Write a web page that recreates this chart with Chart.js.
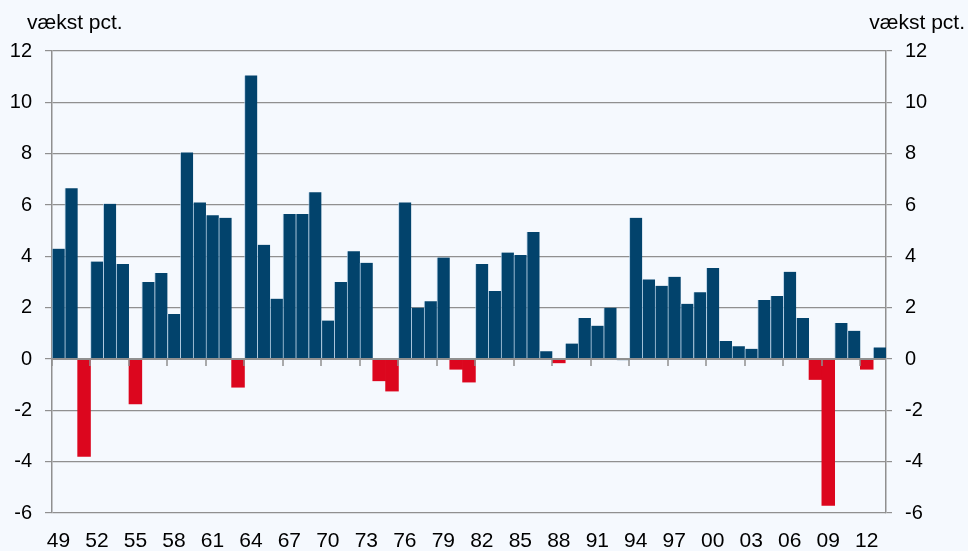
<!DOCTYPE html>
<html>
<head>
<meta charset="utf-8">
<script src="https://cdn.jsdelivr.net/npm/chart.js@4/dist/chart.umd.min.js"></script>
<style>
  html, body { margin: 0; padding: 0; background: #f5f9fe; }
  canvas { display: block; }
</style>
</head>
<body>
<canvas id="chart" width="968" height="551"></canvas>
<script>
// Years 1949-2013 (two-digit labels)
const years = [
    '49','50','51','52','53','54','55','56','57','58','59',
    '60','61','62','63','64','65','66','67','68','69',
    '70','71','72','73','74','75','76','77','78','79',
    '80','81','82','83','84','85','86','87','88','89',
    '90','91','92','93','94','95','96','97','98','99',
    '00','01','02','03','04','05','06','07','08','09',
    '10','11','12','13'
];

// Real growth, pct.
const growth = [
    4.3, 6.65, -3.8, 3.8, 6.05, 3.7, -1.75, 3.0, 3.35, 1.75, 8.05,
    6.1, 5.6, 5.5, -1.1, 11.05, 4.45, 2.35, 5.65, 5.65, 6.5,
    1.5, 3.0, 4.2, 3.75, -0.85, -1.25, 6.1, 2.0, 2.25, 3.95,
    -0.4, -0.9, 3.7, 2.65, 4.15, 4.05, 4.95, 0.3, -0.15, 0.6,
    1.6, 1.3, 2.0, -0.05, 5.5, 3.1, 2.85, 3.2, 2.15, 2.6,
    3.55, 0.7, 0.5, 0.4, 2.3, 2.45, 3.4, 1.6, -0.8, -5.7,
    1.4, 1.1, -0.4, 0.45
];

const yMin = -6;
const yMax = 12;
const yStep = 2;
const axisTitle = 'vækst pct.';

const blue = '#02436c';
const red = '#dc061e';
const gridGray = '#909090';

const isNeg = v => v <= -0.1;

// Zero line + small ticks every third year, plus the unit labels
const extras = {
    id: 'extras',
    afterDatasetsDraw(chart) {
        const { ctx, chartArea, scales } = chart;
        const x = scales.x;
        const y0 = scales.y.getPixelForValue(0);
        const half = (x.getPixelForValue(1) - x.getPixelForValue(0)) / 2;
        ctx.save();
        ctx.strokeStyle = gridGray;
        ctx.lineWidth = 2;
        ctx.beginPath();
        ctx.moveTo(chartArea.left, y0);
        ctx.lineTo(chartArea.right, y0);
        ctx.stroke();
        ctx.lineWidth = 1.5;
        ctx.beginPath();
        for (let i = 0; i < years.length; i += 3) {
            const px = Math.round(x.getPixelForValue(i) - half);
            ctx.moveTo(px, y0);
            ctx.lineTo(px, y0 + 7);
        }
        ctx.stroke();
        ctx.restore();
    },
    afterDraw(chart) {
        const { ctx } = chart;
        ctx.save();
        ctx.fillStyle = '#000';
        ctx.font = '21px "Liberation Sans", Arial, sans-serif';
        ctx.textBaseline = 'middle';
        ctx.textAlign = 'left';
        ctx.fillText(axisTitle, 27, 23);
        ctx.textAlign = 'right';
        ctx.fillText(axisTitle, 965, 23);
        ctx.restore();
    }
};

Chart.defaults.font.family = '"Liberation Sans", Arial, sans-serif';
Chart.defaults.font.size = 20;
Chart.defaults.color = '#000';

new Chart(document.getElementById('chart'), {
    type: 'bar',
    data: {
        labels: years,
        datasets: [{
            data: growth,
            backgroundColor: growth.map(v => isNeg(v) ? red : blue),
            borderColor: 'rgba(170,200,225,0.75)',
            borderWidth: growth.map(v => isNeg(v) ? 0 : { left: 1, right: 0, top: 0, bottom: 0 }),
            borderSkipped: false,
            barPercentage: 1,
            categoryPercentage: 1,
            yAxisID: 'y'
        }]
    },
    options: {
        responsive: false,
        animation: false,
        layout: { padding: { top: 51, left: 0, right: 0, bottom: 0 } },
        plugins: {
            legend: { display: false },
            tooltip: { enabled: false }
        },
        scales: {
            x: {
                grid: { display: false, drawTicks: false },
                border: { display: false },
                ticks: {
                    autoSkip: false,
                    maxRotation: 0,
                    padding: 16,
                    font: { size: 21 },
                    callback: function (val, idx) {
                        return idx % 3 === 0 ? years[idx] : '';
                    }
                },
                afterFit: s => { s.height = 38; }
            },
            y: {
                position: 'left',
                min: yMin,
                max: yMax,
                ticks: { stepSize: yStep, padding: 13 },
                grid: { color: gridGray, lineWidth: 1.2, tickLength: 7 },
                border: { display: true, color: gridGray, width: 1.5 },
                afterFit: s => { s.width = 52; }
            },
            y2: {
                position: 'right',
                min: yMin,
                max: yMax,
                ticks: { stepSize: yStep, padding: 13 },
                grid: { drawOnChartArea: false, color: gridGray, lineWidth: 1.2, tickLength: 6 },
                border: { display: true, color: gridGray, width: 1.5 },
                afterFit: s => { s.width = 82; }
            }
        }
    },
    plugins: [extras]
});
</script>
</body>
</html>
